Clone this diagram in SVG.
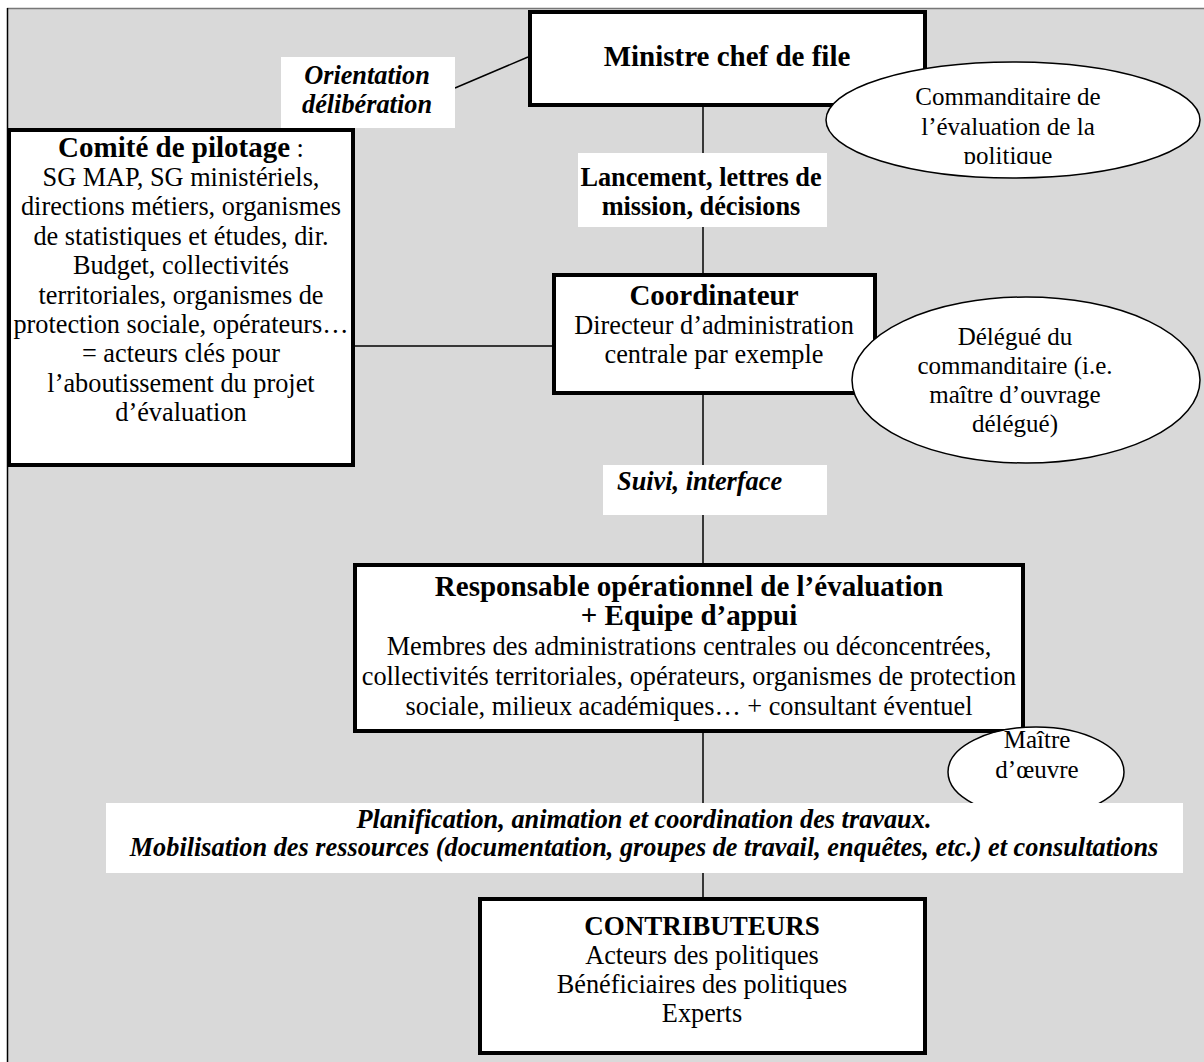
<svg xmlns="http://www.w3.org/2000/svg" width="1204" height="1062" viewBox="0 0 1204 1062">
<style>
text{font-family:"Liberation Serif","Times New Roman",serif;fill:#000}
.bg{fill:#d9d9d9}
.box{fill:#fff;stroke:#000;stroke-width:4}
.ell{fill:#fff;stroke:#000;stroke-width:1.5}
.lbl{fill:#fff}
.conn{stroke:#000;stroke-width:1.5;fill:none}
.t{font-size:29px;font-weight:bold}
.n{font-size:26.3px}
.bi{font-size:26.3px;font-weight:bold;font-style:italic}
.bb{font-size:26.3px;font-weight:bold}
.e{font-size:25px}
.c{text-anchor:middle}
</style>
<defs>
<clipPath id="clipCmd"><rect x="820" y="60" width="384" height="104"/></clipPath>
</defs>
<rect width="1204" height="1062" fill="#fff"/>
<rect class="bg" x="7" y="8" width="1197" height="1054"/>
<line x1="7" y1="8.5" x2="1204" y2="8.5" stroke="#777" stroke-width="1.5"/>
<line x1="7.5" y1="8" x2="7.5" y2="1062" stroke="#000" stroke-width="1.5"/>

<g id="connectors">
<path class="conn" d="M703 107V897"/>
<path class="conn" d="M355 346H552"/>
<path class="conn" d="M455 88L528 57"/>
</g>

<g id="label-orientation">
<rect class="lbl" x="281" y="57" width="174" height="71"/>
<text class="bi c" x="367" y="84">Orientation</text>
<text class="bi c" x="367" y="113">délibération</text>
</g>

<g id="node-ministre">
<rect class="box" x="530" y="12" width="395" height="93"/>
<text class="t c" x="727" y="66">Ministre chef de file</text>
</g>

<g id="node-commanditaire">
<ellipse class="ell" cx="1013" cy="120" rx="187" ry="58"/>
<g clip-path="url(#clipCmd)">
<text class="e c" x="1008" y="105">Commanditaire de</text>
<text class="e c" x="1008" y="135">l’évaluation de la</text>
<text class="e c" x="1008" y="164">politique</text>
</g>
</g>

<g id="label-lancement">
<rect class="lbl" x="578" y="153" width="249" height="74"/>
<text class="bb c" x="701" y="186">Lancement, lettres de</text>
<text class="bb c" x="701" y="215">mission, décisions</text>
</g>

<g id="node-comite">
<rect class="box" x="9" y="130" width="344" height="335"/>
<text class="n c" x="181" y="157"><tspan class="t">Comité de pilotage</tspan> :</text>
<text class="n c" x="181" y="186">SG MAP, SG ministériels,</text>
<text class="n c" x="181" y="215">directions métiers, organismes</text>
<text class="n c" x="181" y="245">de statistiques et études, dir.</text>
<text class="n c" x="181" y="274">Budget, collectivités</text>
<text class="n c" x="181" y="304">territoriales, organismes de</text>
<text class="n c" x="181" y="333">protection sociale, opérateurs…</text>
<text class="n c" x="181" y="362">= acteurs clés pour</text>
<text class="n c" x="181" y="392">l’aboutissement du projet</text>
<text class="n c" x="181" y="421">d’évaluation</text>
</g>

<g id="node-coordinateur">
<rect class="box" x="554" y="275" width="321" height="118"/>
<text class="t c" x="714" y="305">Coordinateur</text>
<text class="n c" x="714" y="334">Directeur d’administration</text>
<text class="n c" x="714" y="363">centrale par exemple</text>
</g>

<g id="node-delegue">
<ellipse class="ell" cx="1026" cy="380" rx="174" ry="83"/>
<text class="e c" x="1015" y="345">Délégué du</text>
<text class="e c" x="1015" y="374">commanditaire (i.e.</text>
<text class="e c" x="1015" y="403">maître d’ouvrage</text>
<text class="e c" x="1015" y="432">délégué)</text>
</g>

<g id="label-suivi">
<rect class="lbl" x="603" y="465" width="224" height="50"/>
<text class="bi" x="617" y="490">Suivi, interface</text>
</g>

<g id="node-responsable">
<rect class="box" x="355" y="565" width="668" height="166"/>
<text class="t c" x="689" y="596">Responsable opérationnel de l’évaluation</text>
<text class="t c" x="689" y="625">+ Equipe d’appui</text>
<text class="n c" x="689" y="655">Membres des administrations centrales ou déconcentrées,</text>
<text class="n c" x="689" y="685">collectivités territoriales, opérateurs, organismes de protection</text>
<text class="n c" x="689" y="715">sociale, milieux académiques… + consultant éventuel</text>
</g>

<g id="node-maitre">
<ellipse class="ell" cx="1036" cy="772" rx="88" ry="45"/>
<text class="e c" x="1037" y="748">Maître</text>
<text class="e c" x="1037" y="778">d’œuvre</text>
</g>

<g id="label-planification">
<rect class="lbl" x="106" y="803" width="1077" height="70"/>
<text class="bi c" x="644" y="828">Planification, animation et coordination des travaux.</text>
<text class="bi c" x="644" y="856">Mobilisation des ressources (documentation, groupes de travail, enquêtes, etc.) et consultations</text>
</g>

<g id="node-contributeurs">
<rect class="box" x="480" y="899" width="445" height="154"/>
<text class="bb c" x="702" y="935" style="font-size:27px">CONTRIBUTEURS</text>
<text class="n c" x="702" y="964">Acteurs des politiques</text>
<text class="n c" x="702" y="993">Bénéficiaires des politiques</text>
<text class="n c" x="702" y="1022">Experts</text>
</g>
</svg>
